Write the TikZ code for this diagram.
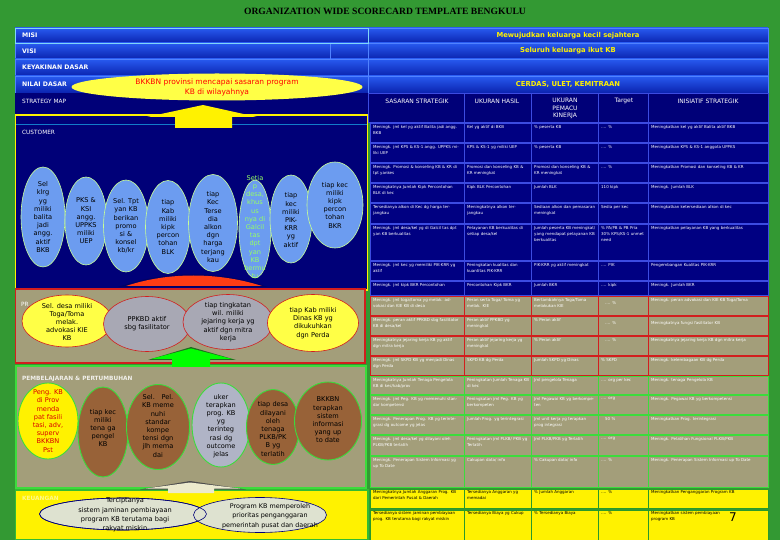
\documentclass[tikz,border=0pt]{standalone}
\usepackage{fontspec}
\setmainfont{DejaVu Sans}
\newfontfamily\titlefont{Liberation Serif}
\usetikzlibrary{shapes.geometric}

\definecolor{bggreen}{RGB}{51,153,51}
\definecolor{navy}{RGB}{0,0,120}
\definecolor{bartop}{RGB}{40,90,240}
\definecolor{barbot}{RGB}{10,35,175}
\definecolor{barline}{RGB}{80,130,255}
\definecolor{tblue}{RGB}{0,0,130}
\definecolor{tbline}{RGB}{60,75,225}
\definecolor{olivebg}{RGB}{163,158,122}
\definecolor{redline}{RGB}{210,30,30}
\definecolor{lgreen}{RGB}{60,220,60}
\definecolor{cblue}{RGB}{108,156,240}
\definecolor{ellline}{RGB}{200,255,150}
\definecolor{igray}{RGB}{168,168,180}
\definecolor{lbrn}{RGB}{152,98,56}
\definecolor{lgray}{RGB}{176,180,198}
\definecolor{fgray}{RGB}{222,226,208}
\definecolor{goalyel}{RGB}{255,255,70}
\definecolor{arrred}{RGB}{255,60,20}
\definecolor{beige}{RGB}{236,234,205}
\definecolor{lime}{RGB}{150,255,100}

% one row of the scorecard table: name, top, bottom, kind, five cells
\newcommand\srow[9]{%
  \draw[#4row] (370,#2+0.8) rectangle (768,#3-0.8);
  \draw[#4row] (464,#2+0.8) -- (464,#3-0.8) (531,#2+0.8) -- (531,#3-0.8)
               (598,#2+0.8) -- (598,#3-0.8) (648,#2+0.8) -- (648,#3-0.8);
  \node[cell, #4txt, text width=86pt]  (#1a) at (373,#2+2.5) {#5};
  \node[cell, #4txt, text width=62pt]  (#1b) at (467,#2+2.5) {#6};
  \node[cell, #4txt, text width=62pt]  (#1c) at (534,#2+2.5) {#7};
  \node[cell, #4txt, text width=46pt]  (#1d) at (601,#2+2.5) {#8};
  \node[cell, #4txt, text width=114pt] (#1e) at (651,#2+2.5) {#9};
}

\begin{document}
\begin{tikzpicture}[x=1pt, y=-1pt,
  hlab/.style  ={anchor=west, inner sep=0pt, text=white, font=\bfseries\fontsize{6.2}{7}\selectfont},
  hval/.style  ={inner sep=0pt, text=yellow, font=\bfseries\fontsize{6.8}{8}\selectfont},
  plab/.style  ={anchor=west, inner sep=0pt, text=white, font=\fontsize{5.8}{7}\selectfont},
  thead/.style ={inner sep=0pt, text=white, align=center, font=\fontsize{6}{7.5}\selectfont},
  cell/.style  ={anchor=north west, inner sep=0pt, align=left, font=\fontsize{4}{5.8}\selectfont},
  custrow/.style ={fill=tblue, draw=tbline, line width=0.6pt},
  custtxt/.style ={text=white},
  introw/.style  ={fill=olivebg, draw=redline, line width=0.6pt},
  inttxt/.style  ={text=white},
  learnrow/.style={fill=olivebg, draw=lgreen, line width=1pt},
  learntxt/.style={text=white},
  finrow/.style  ={fill=yellow, draw=lgreen!70!black, line width=0.5pt},
  fintxt/.style  ={text=black},
  oval/.style  ={ellipse, inner sep=0pt, line width=0.6pt},
  cust/.style  ={oval, fill=cblue, draw=ellline},
  intyel/.style={oval, fill=goalyel, draw=redline},
  intgry/.style={oval, fill=igray, draw=redline},
  lyel/.style  ={oval, fill=yellow, draw=lgreen, line width=0.9pt},
  lbrown/.style={oval, fill=lbrn, draw=lgreen, line width=0.9pt},
  lgry/.style  ={oval, fill=lgray, draw=lgreen, line width=0.9pt},
  fin/.style   ={oval, fill=fgray, draw=navy},
  etxt/.style  ={align=center, inner sep=0pt, font=\fontsize{6.6}{8.2}\selectfont},
]
\useasboundingbox (0,0) rectangle (780,540);
\fill[bggreen] (0,0) rectangle (780,540);

\node[font=\titlefont\bfseries\fontsize{9.6}{11}\selectfont] (title) at (385,11)
  {ORGANIZATION WIDE SCORECARD TEMPLATE BENGKULU};

% header bars
\foreach \ya/\yb in {28/43, 43/59, 59/76, 76/93} {
  \shade[top color=bartop, bottom color=barbot] (15,\ya) rectangle (768,\yb);
  \draw[barline, line width=0.6pt] (15,\ya) rectangle (768,\yb);
}
\draw[barline, line width=0.6pt] (368,28) -- (368,93) (330,43) -- (330,59);
\draw[cyan!50, line width=0.8pt] (15.5,28.5) rectangle (368,43);

\node[hlab] (misi)  at (22,35.5) {MISI};
\node[hlab] (visi)  at (22,51)   {VISI};
\node[hlab] (yakin) at (22,67.5) {KEYAKINAN DASAR};
\node[hlab] (nilai) at (22,84.5) {NILAI DASAR};
\node[hval] (misiv)  at (568,35.5) {Mewujudkan keluarga kecil sejahtera};
\node[hval] (visiv)  at (568,51)   {Seluruh keluarga ikut KB};
\node[hval] (nilaiv) at (568,84.5) {CERDAS, ULET, KEMITRAAN};

% strategy map side
\fill[navy] (15,93) rectangle (368,290);
\node[plab] (smap) at (22,101) {STRATEGY MAP};
\draw[yellow, line width=1.2pt] (15.6,115) rectangle (367.4,290);
\draw[cyan!60!blue, line width=0.5pt] (16,124) -- (367,124);
\node[plab] (custl) at (22,132) {CUSTOMER};

% table head
\fill[navy] (368,93) rectangle (768,122);
\draw[tbline, line width=0.6pt] (368,93) rectangle (768,122)
  (464,93) -- (464,122) (531,93) -- (531,122) (598,93) -- (598,122) (648,93) -- (648,122);
\node[thead] (h1) at (417,101)   {SASARAN STRATEGIK};
\node[thead] (h2) at (497,101)   {UKURAN HASIL};
\node[thead] (h3) at (565,108.5) {UKURAN\\PEMACU\\KINERJA};
\node[thead] (h4) at (624,101)   {Target};
\node[thead] (h5) at (708,101)   {INISIATIF STRATEGIK};

% goal and arrow up to it
\fill[yellow] (175,128) -- (175,117) -- (147,117) -- (203,105) -- (257,117)
  -- (232,117) -- (232,128) -- cycle;
\node[oval, fill=goalyel, minimum width=291pt, minimum height=27pt] (goal) at (217,87) {};
\node[etxt, text=red, font=\fontsize{7.5}{10}\selectfont] (goalt) at (goal)
  {BKKBN provinsi mencapai sasaran program\\KB di wilayahnya};

% arrow from internal to customer
\fill[black!60!blue] (118,287) .. controls (165,270) and (220,270) .. (268,287) -- cycle;
\fill[arrred] (126,286) .. controls (168,272) and (218,272) .. (262,286) -- cycle;

% customer
\node[cust, minimum width=44pt, minimum height=100pt] (c1) at (43,217) {};
\node[etxt] (c1t) at (c1) {Sel\\klrg\\yg\\miliki\\balita\\jadi\\angg.\\aktif\\BKB};
\node[cust, minimum width=42pt, minimum height=88pt] (c2) at (86,221) {};
\node[etxt] (c2t) at (c2) {PKS \&\\KSI\\angg.\\UPPKS\\miliki\\UEP};
\node[cust, minimum width=45pt, minimum height=92pt] (c3) at (126,226) {};
\node[etxt] (c3t) at (c3) {Sel. Tpt\\yan KB\\berikan\\promo\\si \&\\konsel\\kb/kr};
\node[cust, minimum width=45pt, minimum height=93pt] (c4) at (168,227) {};
\node[etxt] (c4t) at (c4) {tiap\\Kab\\miliki\\kipk\\percon\\tohan\\BLK};
\node[cust, minimum width=49pt, minimum height=97pt] (c5) at (213,223) {};
\node[etxt] (c5t) at (213,227) {tiap\\Kec\\Terse\\dia\\alkon\\dgn\\harga\\terjang\\kau};
\node[cust, minimum width=32pt, minimum height=98pt] (c6) at (255,229) {};
\node[etxt, text=lime] (c6t) at (255,227) {Setia\\p\\desa,\\khus\\us\\nya di\\Galcil\\tas\\dpt\\yan\\KB\\bermu\\tu};
\node[cust, minimum width=42pt, minimum height=88pt] (c7) at (291,219) {};
\node[etxt] (c7t) at (291,220) {tiap\\kec\\miliki\\PIK-\\KRR\\yg\\aktif};
\node[cust, minimum width=56pt, minimum height=86pt] (c8) at (335,205) {};
\node[etxt] (c8t) at (c8) {tiap kec\\miliki\\kipk\\percon\\tohan\\BKR};

% internal process
\fill[olivebg] (15,289) rectangle (365,363);
\draw[redline, line width=1.2pt] (15.6,289) rectangle (365,363);
\node[plab] (intl) at (21,304) {PR};
\node[intyel, minimum width=90pt, minimum height=52pt] (i1) at (67,321) {};
\node[etxt] (i1t) at (67,322) {Sel. desa miliki\\Toga/Toma\\melak.\\advokasi KIE\\KB};
\node[intgry, minimum width=87pt, minimum height=55pt] (i2) at (147,324) {};
\node[etxt] (i2t) at (i2) {PPKBD aktif\\sbg fasilitator};
\node[intgry, minimum width=90pt, minimum height=55pt] (i3) at (228,322) {};
\node[etxt] (i3t) at (i3) {tiap tingkatan\\wil. miliki\\jejaring kerja yg\\aktif dgn mitra\\kerja};
\node[intyel, minimum width=91pt, minimum height=57pt] (i4) at (313,323) {};
\node[etxt] (i4t) at (i4) {tiap Kab miliki\\Dinas KB yg\\dikukuhkan\\dgn Perda};

% learning and growth
\fill[olivebg] (15,366) rectangle (366,488);
\draw[lgreen, line width=1.6pt] (15.8,366) rectangle (366,488);
\node[lyel, minimum width=60pt, minimum height=76pt] (l1) at (48,421) {};
\node[etxt, text=red!85!black] (l1t) at (l1) {Peng. KB\\di Prov\\menda\\pat fasili\\tasi, adv,\\superv\\BKKBN\\Pst};
\node[lbrown, minimum width=50pt, minimum height=90pt] (l2) at (103,432) {};
\node[etxt] (l2t) at (103,428) {tiap kec\\miliki\\tena ga\\pengel\\KB};
\node[lbrown, minimum width=63pt, minimum height=85pt] (l3) at (158,427) {};
\node[etxt] (l3t) at (158,426) {Sel.\quad Pel.\\KB meme\\nuhi\\standar\\kompe\\tensi dgn\\jlh mema\\dai};
\node[lgry, minimum width=58pt, minimum height=84pt] (l4) at (221,425) {};
\node[etxt] (l4t) at (221,426) {uker\\terapkan\\prog. KB\\yg\\terinteg\\rasi dg\\outcome\\jelas};
\node[lbrown, minimum width=53pt, minimum height=75pt] (l5) at (273,427) {};
\node[etxt] (l5t) at (273,429) {tiap desa\\dilayani\\oleh\\tenaga\\PLKB/PK\\B yg\\terlatih};
\node[lbrown, minimum width=67pt, minimum height=78pt] (l6) at (328,421) {};
\node[etxt] (l6t) at (328,420) {BKKBN\\terapkan\\sistem\\informasi\\yang up\\to date};
\node[plab, font=\bfseries\fontsize{5.8}{7}\selectfont, text=white!85!olivebg] (learnl) at (22,379)
  {PEMBELAJARAN \& PERTUMBUHAN};

% arrow from learning to internal
\fill[lgreen!50!black] (148,360) -- (191,347) -- (236,360) -- cycle;
\fill[green] (172,367) -- (172,359) -- (151,359) -- (191,348.5) -- (232,359)
  -- (210,359) -- (210,367) -- cycle;

% finance
\fill[yellow] (15,490) rectangle (368,540);
\draw[lgreen!85!black, line width=1.2pt] (15.6,490) rectangle (368,539.4);
\node[plab, font=\bfseries\fontsize{5.8}{7}\selectfont, text=yellow!45!white] (finl) at (22,498) {KEUANGAN};
\node[fin, minimum width=167pt, minimum height=32pt] (f1) at (123,514) {};
\node[fin, minimum width=133pt, minimum height=35pt] (f2) at (260,515) {};
\draw[navy, line width=0.6pt] (f1.center) ellipse (83.5 and 16);
\node[etxt, font=\fontsize{6.6}{9.3}\selectfont] (f1t) at (125,515)
  {Terciptanya\\sistem jaminan pembiayaan\\program KB terutama bagi\\rakyat miskin};
\node[etxt, font=\fontsize{6.4}{9.3}\selectfont] (f2t) at (270,516)
  {Program KB memperoleh\\prioritas penganggaran\\pemerintah pusat dan daerah};

% arrow from finance to learning
\fill[black!70] (140,489.5) -- (190,481) -- (246,489.5) -- cycle;
\fill[beige] (146,488.5) -- (190,482.5) -- (240,488.5) -- (214,488.5)
  -- (214,493) -- (168,493) -- (168,488.5) -- cycle;

% scorecard rows
\srow{r1}{123}{143}{cust}{Meningk. jml kel yg aktif Balita jadi angg. BKB}{Kel yg aktif di BKB}{\% peserta KB}{…. \%}{Meningkatkan kel yg aktif Balita aktif BKB}
\srow{r2}{143}{163}{cust}{Meningk. jml KPS \& KS-1 angg. UPPKS miliki UEP}{KPS \& KS-1 yg miliki UEP}{\% peserta KB}{…. \%}{Meningkatkan KPS \& KS-1 anggota UPPKS}
\srow{r3}{163}{183}{cust}{Meningk. Promosi \& konseling KB \& KR di tpt yankes}{Promosi dan konseling KB \& KR meningkat}{Promosi dan konseling KB \& KR meningkat}{…. \%}{Meningkatkan Promosi dan konseling KB \& KR}
\srow{r4}{183}{203}{cust}{Meningkatnya Jumlah Kipk Percontohan BLK di kec}{Kipk BLK Percontohan}{Jumlah BLK}{110 kipk}{Meningk. Jumlah BLK}
\srow{r5}{203}{224}{cust}{Tersedianya alkon di Kec dg harga terjangkau}{Meningkatnya alkon terjangkau}{Sediaan alkon dan pemasaran meningkat}{Sedia per kec}{Meningkatkan ketersediaan alkon di kec}
\srow{r6}{224}{261}{cust}{Meningk. jml desa/kel yg di Galcil tas dpt yan KB berkualitas}{Pelayanan KB berkualitas di setiap desa/kel}{Jumlah peserta KB meningkat/ yang mendapat pelayanan KB berkualitas}{\% PA/PB \& PB Pria 30\% KPS/KS-1 unmet need}{Meningkatkan pelayanan KB yang berkualitas}
\srow{r7}{261}{281}{cust}{Meningk. jml kec yg memiliki PIK-KRR yg aktif}{Peningkatan kualitas dan kuantitas PIK-KRR}{PIK-KRR yg aktif meningkat}{…. PIK}{Pengembangan Kualitas PIK-KRR}
\srow{r8}{281}{296}{cust}{Meningk. jml kipk BKR Percontohan}{Percontohan Kipk BKR}{Jumlah BKR}{…. kipk}{Meningk. Jumlah BKR}
\srow{r9}{296}{316}{int}{Meningk. jml toga/toma yg melak. advokasi dan KIE KB di desa}{Peran serta Toga/ Toma yg melak. KIE}{Bertambahnya Toga/Toma melakukan KIE}{\mbox{}\\ \quad…. \%}{Meningk. peran advokasi dan KIE KB Toga/Toma}
\srow{r10}{316}{336}{int}{Meningk. peran aktif PPKBD sbg fasilitator KB di desa/kel}{Peran aktif PPKBD yg meningkat}{\% Peran aktif}{\mbox{}\\ \quad…. \%}{\mbox{}\\ Meningkatnya fungsi fasilitator KB}
\srow{r11}{336}{356}{int}{Meningkatnya jejaring kerja KB yg aktif dgn mitra kerja}{Peran aktif jejaring kerja yg meningkat}{\% Peran aktif}{\quad…. \%}{Meningkatnya jejaring kerja KB dgn mitra kerja}
\srow{r12}{356}{376}{int}{Meningk. jml SKPD KB yg menjadi Dinas dgn Perda}{SKPD KB dg Perda}{Jumlah SKPD yg Dinas}{\% SKPD}{Meningk. kelembagaan KB dg Perda}
\srow{r13}{376}{395}{learn}{Meningkatnya Jumlah Tenaga Pengelola KB di kec/kab/prov}{Peningkatan Jumlah Tenaga KB di kec}{Jml pengelola Tenaga}{…. org per kec}{Meningk. tenaga Pengelola KB}
\srow{r14}{395}{415}{learn}{Meningk. jml Peg. KB yg memenuhi standar kompetensi}{Peningkatan jml Peg. KB yg berkompeten}{Jml Pegawai KB yg berkompeten}{…. org}{Meningk. Pegawai KB yg berkompetensi}
\srow{r15}{415}{435}{learn}{Meningk. Penerapan Prog. KB yg terintegrasi dg outcome yg jelas}{Jumlah Prog. yg terintegrasi}{Jml unit kerja yg terapkan prog integrasi}{\quad 50 \%}{Meningkatkan Prog. terintegrasi}
\srow{r16}{435}{456}{learn}{Meningk. jml desa/kel yg dilayani oleh PLKB/PKB terlatih}{Peningkatan jml PLKB/ PKB yg Terlatih}{Jml PLKB/PKB yg Terlatih}{…. org}{Meningk. Pelatihan Fungsional PLKB/PKB}
\srow{r17}{456}{488}{learn}{Meningk. Penerapan Sistem Informasi yg up To Date}{Cakupan data/ info}{\% Cakupan data/ info}{…. \%}{Meningk. Penerapan Sistem Informasi up To Date}
\srow{r18}{488}{509}{fin}{Meningkatnya Jumlah Anggaran Prog. KB dari Pemerintah Pusat \& Daerah}{Tersedianya Anggaran yg memadai}{\% Jumlah Anggaran}{…. \%}{Meningkatkan Penganggaran Program KB}
\srow{r19}{509}{541}{fin}{Tersedianya sistem jaminan pembiayaan prog. KB terutama bagi rakyat miskin}{Tersedianya Biaya yg Cukup}{\% Tersedianya Biaya}{…. \%}{Meningkatkan sistem pembiayaan\\program KB}

\node[font=\fontsize{12}{14}\selectfont] (page) at (733,517) {7};
\end{tikzpicture}
\end{document}
